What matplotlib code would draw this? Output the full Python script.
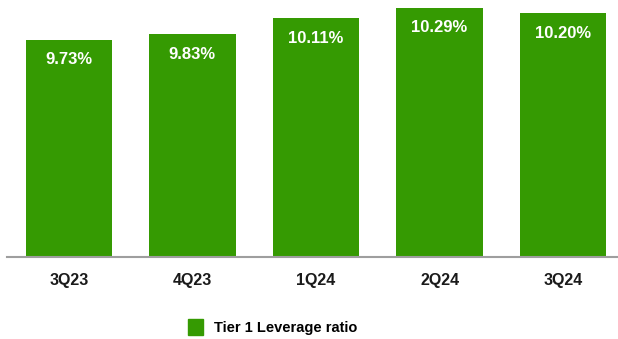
import matplotlib.pyplot as plt
from matplotlib.patches import Patch

quarters = ["3Q23", "4Q23", "1Q24", "2Q24", "3Q24"]
leverage = [9.73, 9.83, 10.11, 10.29, 10.20]
series_name = "Tier 1 Leverage ratio"

green = "#359a02"
plt.rcParams["font.family"] = ["Liberation Sans", "DejaVu Sans"]

fig = plt.figure(figsize=(6.18, 3.39), dpi=100)
ax = fig.add_axes([7 / 618, (339 - 256.5) / 339, 611 / 618, 256.5 / 339])

x = list(range(len(quarters)))
bars = ax.bar(x, leverage, width=0.70, color=green, zorder=2)

ax.set_xlim(-0.5, -0.5 + 611 / 123.6)
ax.set_ylim(5.94, 10.43)

# value labels sit just inside the top of each bar
for b, v in zip(bars, leverage):
    ax.annotate(f"{v:.2f}%", (b.get_x() + b.get_width() / 2, v),
                xytext=(0, -20), textcoords="offset pixels",
                ha="center", va="center", color="white",
                fontsize=12, fontweight="bold")

for s in ["top", "right", "left"]:
    ax.spines[s].set_visible(False)
ax.spines["bottom"].set_color("#9e9e9e")
ax.spines["bottom"].set_linewidth(1.5)
ax.set_yticks([])
ax.set_xticks(x)
ax.set_xticklabels(quarters, fontsize=11.5, fontweight="bold", color="#1a1a1a")
ax.tick_params(axis="x", length=0, pad=12)

fig.legend(handles=[Patch(color=green, label=series_name)],
           loc="center", bbox_to_anchor=(273 / 618, 1 - 327 / 339),
           frameon=False, handlelength=1.0, handleheight=1.3,
           handletextpad=0.8, prop={"weight": "bold", "size": 10.5})

fig.savefig("out.png", dpi=100)
